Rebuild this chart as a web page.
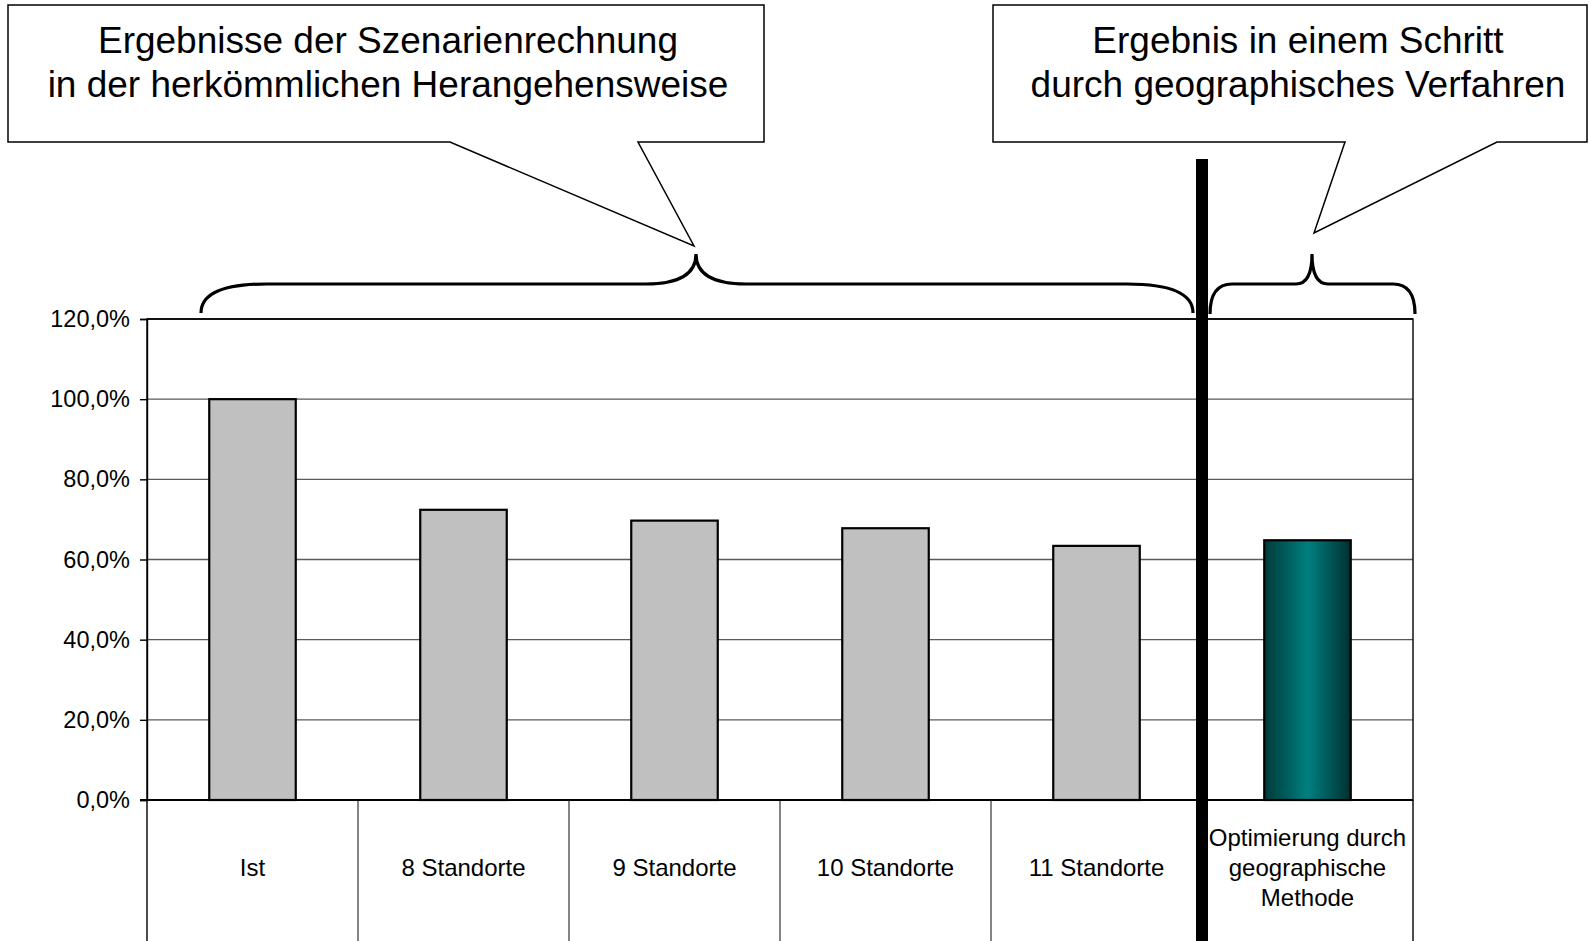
<!DOCTYPE html>
<html>
<head>
<meta charset="utf-8">
<script src="https://cdn.jsdelivr.net/npm/d3@7"></script>
<style>
  body { margin: 0; background: #fff; }
  text { font-family: "Liberation Sans", Arial, sans-serif; fill: #000; }
</style>
</head>
<body>
<div id="chart"></div>
<script>
const svgWidth = 1589
const svgHeight = 941

// data
const categories = ["Ist", "8 Standorte", "9 Standorte", "10 Standorte", "11 Standorte", "Optimierung durch geographische Methode"]
const categoryLines = [["Ist"], ["8 Standorte"], ["9 Standorte"], ["10 Standorte"], ["11 Standorte"], ["Optimierung durch", "geographische", "Methode"]]
const values = [1.0, 0.724, 0.697, 0.678, 0.634, 0.648]
const approach = ["szenario", "szenario", "szenario", "szenario", "szenario", "geographisch"]
const yTicks = [0, 0.2, 0.4, 0.6, 0.8, 1.0, 1.2]
const calloutLeft = ["Ergebnisse der Szenarienrechnung", "in der herkömmlichen Herangehensweise"]
const calloutRight = ["Ergebnis in einem Schritt", "durch geographisches Verfahren"]

let plot = { left: 147, right: 1413, top: 319, bottom: 800 }

let svg = d3
  .select("#chart")
  .append("svg")
  .attr("width", svgWidth)
  .attr("height", svgHeight)

let defs = svg.append("defs")
let grad = defs
  .append("linearGradient")
  .attr("id", "teal")
  .attr("x1", "0%")
  .attr("x2", "100%")
  .attr("y1", "0%")
  .attr("y2", "0%")
grad.append("stop").attr("offset", "0%").attr("stop-color", "#003a3a")
grad.append("stop").attr("offset", "30%").attr("stop-color", "#006262")
grad.append("stop").attr("offset", "50%").attr("stop-color", "#008080")
grad.append("stop").attr("offset", "70%").attr("stop-color", "#006060")
grad.append("stop").attr("offset", "100%").attr("stop-color", "#003030")

let x = d3
  .scaleBand()
  .domain(categories)
  .range([plot.left, plot.right])
  .padding(0)

let y = d3
  .scaleLinear()
  .domain([0, 1.2])
  .range([plot.bottom, plot.top])

const de = d3.formatLocale({ decimal: ",", thousands: ".", grouping: [3], currency: ["", " €"] })
const pct = de.format(".1%")

// gridlines
svg
  .append("g")
  .selectAll("line")
  .data(yTicks.filter(t => t > 0 && t < 1.2))
  .enter()
  .append("line")
  .attr("x1", plot.left)
  .attr("x2", plot.right)
  .attr("y1", d => y(d))
  .attr("y2", d => y(d))
  .attr("stroke", "#5a5a5a")
  .attr("stroke-width", 1.4)

// plot frame
svg
  .append("rect")
  .attr("x", plot.left)
  .attr("y", plot.top)
  .attr("width", plot.right - plot.left)
  .attr("height", plot.bottom - plot.top)
  .attr("fill", "none")
  .attr("stroke", "#000")
  .attr("stroke-width", 1.4)
svg
  .append("line")
  .attr("x1", plot.left)
  .attr("x2", plot.right)
  .attr("y1", plot.top)
  .attr("y2", plot.top)
  .attr("stroke", "#111")
  .attr("stroke-width", 2)

// y axis
let leftAxis = d3
  .axisLeft(y)
  .tickValues(yTicks)
  .tickFormat(pct)
  .tickSize(7)
  .tickPadding(10)

let yAxis = svg
  .append("g")
  .attr("transform", `translate(${plot.left}, 0)`)
  .call(leftAxis)
yAxis.select(".domain").attr("stroke", "#000").attr("stroke-width", 1.4)
yAxis.selectAll(".tick line").attr("stroke", "#000").attr("stroke-width", 1.4)
yAxis
  .selectAll(".tick text")
  .style("font-family", "'Liberation Sans', Arial, sans-serif")
  .style("font-size", "23.5px")
  .attr("fill", "#000")

// category table below the axis
let cells = svg
  .append("g")
  .selectAll("g")
  .data(categories)
  .enter()
  .append("g")

cells
  .append("line")
  .attr("x1", d => x(d))
  .attr("x2", d => x(d))
  .attr("y1", plot.bottom)
  .attr("y2", svgHeight)
  .attr("stroke", (d, i) => (i === 0 ? "#000" : "#505050"))
  .attr("stroke-width", 1.4)

svg
  .append("line")
  .attr("x1", plot.right)
  .attr("x2", plot.right)
  .attr("y1", plot.bottom)
  .attr("y2", svgHeight)
  .attr("stroke", "#000")
  .attr("stroke-width", 1.4)

cells.each(function(d, i) {
  let lines = categoryLines[i]
  let t = d3
    .select(this)
    .append("text")
    .attr("text-anchor", "middle")
    .style("font-size", "24px")
  lines.forEach((ln, k) => {
    t.append("tspan")
      .attr("x", x(d) + x.bandwidth() / 2)
      .attr("y", 876 + (k - (lines.length - 1) / 2) * 30)
      .text(ln)
  })
})

// bars
let barW = x.bandwidth() * 0.41
svg
  .append("g")
  .selectAll("rect")
  .data(categories)
  .enter()
  .append("rect")
  .attr("x", d => x(d) + (x.bandwidth() - barW) / 2)
  .attr("y", (d, i) => y(values[i]))
  .attr("width", barW)
  .attr("height", (d, i) => y(0) - y(values[i]))
  .attr("fill", (d, i) => (approach[i] === "geographisch" ? "url(#teal)" : "#c0c0c0"))
  .attr("stroke", "#000")
  .attr("stroke-width", 2.2)

// zero line
svg
  .append("line")
  .attr("x1", plot.left - 7)
  .attr("x2", plot.right)
  .attr("y1", y(0))
  .attr("y2", y(0))
  .attr("stroke", "#000")
  .attr("stroke-width", 2)

// thick separator between the two approaches
let sepX = x(categories[5])
svg
  .append("line")
  .attr("x1", sepX)
  .attr("x2", sepX)
  .attr("y1", 159)
  .attr("y2", svgHeight)
  .attr("stroke", "#000")
  .attr("stroke-width", 12)

/**
 * Curly brace path, tip pointing up.
 **/
function bracePath(x0, x1, xm, yEnd, yBar, yTip, r, rt) {
  return `M${x0},${yEnd} Q${x0},${yBar} ${x0 + r},${yBar} L${xm - rt},${yBar} ` +
    `Q${xm},${yBar} ${xm},${yTip} Q${xm},${yBar} ${xm + rt},${yBar} ` +
    `L${x1 - r},${yBar} Q${x1},${yBar} ${x1},${yEnd}`
}

svg
  .append("path")
  .attr("d", bracePath(201, 1193, 696, 313, 284, 254, 66, 50))
  .attr("fill", "none")
  .attr("stroke", "#000")
  .attr("stroke-width", 3.2)

svg
  .append("path")
  .attr("d", bracePath(1210, 1415, 1312, 314, 284, 254, 22, 16))
  .attr("fill", "none")
  .attr("stroke", "#000")
  .attr("stroke-width", 3.2)

/**
 * Rectangular callout with a wedge pointer below.
 **/
function callout(box, base0, base1, tip, lines, cx) {
  let p = d3.path()
  p.moveTo(box.x0, box.y0)
  p.lineTo(box.x1, box.y0)
  p.lineTo(box.x1, box.y1)
  p.lineTo(base1, box.y1)
  p.lineTo(tip[0], tip[1])
  p.lineTo(base0, box.y1)
  p.lineTo(box.x0, box.y1)
  p.closePath()
  svg
    .append("path")
    .attr("d", p.toString())
    .attr("fill", "#fff")
    .attr("stroke", "#000")
    .attr("stroke-width", 1.5)

  svg
    .append("g")
    .selectAll("text")
    .data(lines)
    .enter()
    .append("text")
    .attr("x", cx)
    .attr("y", (d, i) => 53 + i * 44)
    .attr("text-anchor", "middle")
    .style("font-size", "37px")
    .text(d => d)
}

callout({ x0: 8, y0: 5, x1: 764, y1: 142 }, 450, 638, [694, 246], calloutLeft, 388)
callout({ x0: 993, y0: 5, x1: 1587, y1: 142 }, 1345, 1497, [1314, 233], calloutRight, 1298)
</script>
</body>
</html>
